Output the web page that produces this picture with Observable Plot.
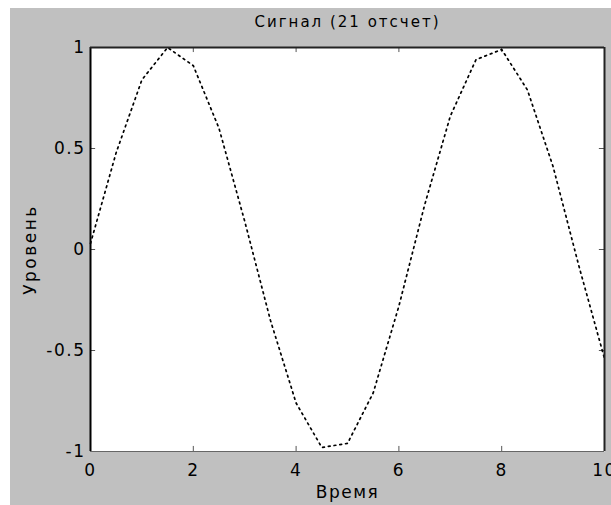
<!DOCTYPE html>
<html>
<head>
<meta charset="utf-8">
<script src="https://cdn.jsdelivr.net/npm/d3@7"></script>
<script src="https://cdn.jsdelivr.net/npm/@observablehq/plot@0.6"></script>
<style>
  html, body { margin: 0; padding: 0; background: #ffffff; }
  #chart { position: absolute; left: 10px; top: 8px; }
  #chart svg { display: block; }
  #chart svg text { letter-spacing: 1.5px; }
</style>
</head>
<body>
<div id="chart"></div>
<script>
const titleText = "Сигнал (21 отсчет)";
const xLabel = "Время";
const yLabel = "Уровень";
const xTicks = [0, 2, 4, 6, 8, 10];
const yTicks = [-1, -0.5, 0, 0.5, 1];
const time = [0, 0.5, 1, 1.5, 2, 2.5, 3, 3.5, 4, 4.5, 5, 5.5, 6, 6.5, 7, 7.5, 8, 8.5, 9, 9.5, 10];
const level = [0.03, 0.48, 0.84, 1.0, 0.91, 0.6, 0.14, -0.35, -0.76, -0.98, -0.96, -0.71, -0.28, 0.22, 0.66, 0.94, 0.99, 0.79, 0.41, -0.08, -0.54];

const data = time.map((t, i) => ({t, v: level[i]}));

const chart = Plot.plot({
  width: 601,
  height: 497,
  marginLeft: 80,
  marginRight: 7,
  marginTop: 39,
  marginBottom: 54,
  x: {domain: [0, 10]},
  y: {domain: [-1, 1]},
  style: {background: "#c0c0c0", fontFamily: "DejaVu Sans", fontSize: "17px", color: "#000"},
  marks: [
    Plot.frame({fill: "white", stroke: null}),
    Plot.ruleX(xTicks, {x: d => d, y1: -1, y2: -0.975, stroke: "#555"}),
    Plot.ruleX(xTicks, {x: d => d, y1: 1, y2: 0.975, stroke: "#555"}),
    Plot.ruleY(yTicks, {y: d => d, x1: 0, x2: 0.1, stroke: "#555"}),
    Plot.ruleY(yTicks, {y: d => d, x1: 10, x2: 9.9, stroke: "#555"}),
    Plot.line(data, {x: "t", y: "v", stroke: "#000", strokeWidth: 1.7, strokeDasharray: "1.8,4"}),
    Plot.ruleX([0], {stroke: "#000", strokeWidth: 2}),
    Plot.ruleX([10], {stroke: "#222", strokeWidth: 2}),
    Plot.ruleY([1], {stroke: "#222", strokeWidth: 2}),
    Plot.ruleY([-1], {stroke: "#666", strokeWidth: 1}),
    Plot.axisX(xTicks, {tickSize: 0, tickPadding: 12, tickFormat: d => String(d), label: null, fontSize: 17}),
    Plot.axisY(yTicks, {tickSize: 0, tickPadding: 5, tickFormat: d => String(d), label: null, fontSize: 17}),
    Plot.text([titleText], {text: d => d, frameAnchor: "top", dy: -25, fontSize: 15, textAnchor: "middle", lineAnchor: "middle"}),
    Plot.text([xLabel], {text: d => d, frameAnchor: "bottom", dy: 41, fontSize: 17, textAnchor: "middle", lineAnchor: "middle"}),
    Plot.text([yLabel], {text: d => d, frameAnchor: "left", dx: -60, rotate: -90, fontSize: 17, textAnchor: "middle", lineAnchor: "middle"})
  ]
});

d3.select(chart).selectAll("text").each(function() {
  if (this.textContent === titleText) this.style.letterSpacing = "2px";
  if (this.textContent === yLabel) this.style.letterSpacing = "2.5px";
});

document.getElementById("chart").appendChild(chart);
</script>
</body>
</html>
